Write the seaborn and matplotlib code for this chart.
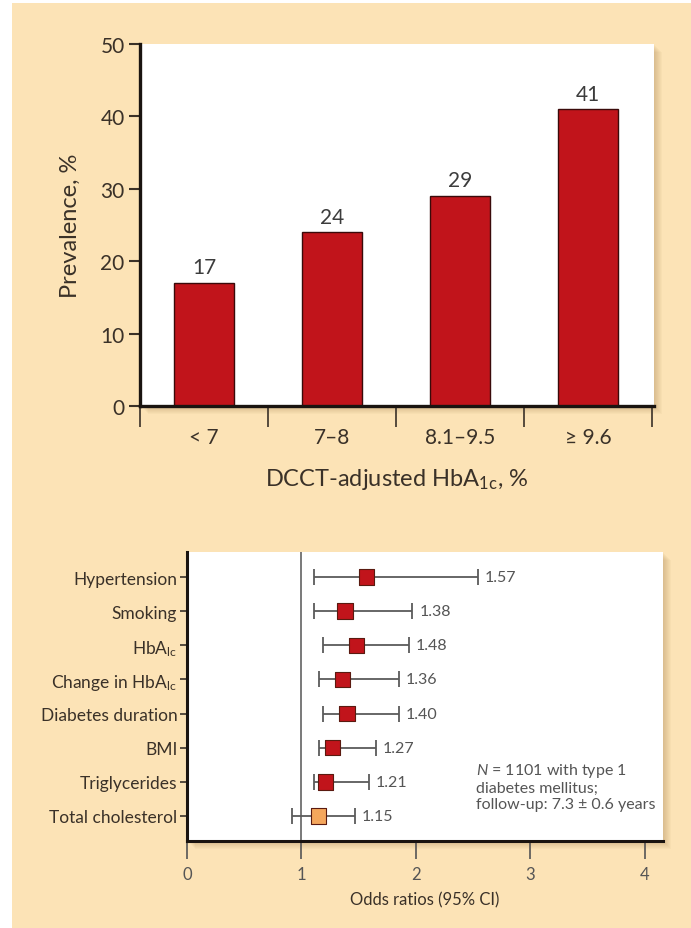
import numpy as np
import pandas as pd
import seaborn as sns
import matplotlib
matplotlib.use('Agg')
import matplotlib.pyplot as plt
from matplotlib.patches import Rectangle

# ---- data ----
hba1c_groups = ["< 7", "7\u20138", "8.1\u20139.5", "\u2265 9.6"]
prevalence = [17, 24, 29, 41]

factors = ["Hypertension", "Smoking", r"HbA$_{\mathregular{lc}}$",
           r"Change in HbA$_{\mathregular{lc}}$", "Diabetes duration",
           "BMI", "Triglycerides", "Total cholesterol"]
odds_ratio = [1.57, 1.38, 1.48, 1.36, 1.40, 1.27, 1.21, 1.15]
ci_low = [1.11, 1.11, 1.19, 1.15, 1.19, 1.15, 1.11, 0.92]
ci_high = [2.54, 1.97, 1.94, 1.85, 1.85, 1.65, 1.59, 1.47]
significant = [True, True, True, True, True, True, True, False]

# ---- style ----
PEACH = '#fce3b6'
RED = '#c1141b'
ORANGE = '#f4a65c'
INK = '#3a3128'

sns.set_theme(style='white')
plt.rcParams['font.family'] = ['Lato', 'DejaVu Sans']
plt.rcParams['mathtext.fontset'] = 'custom'
plt.rcParams['mathtext.rm'] = 'Lato'
plt.rcParams['mathtext.it'] = 'Lato:italic'
plt.rcParams['text.color'] = INK
plt.rcParams['axes.labelcolor'] = INK
plt.rcParams['xtick.color'] = INK
plt.rcParams['ytick.color'] = INK

W, H = 691, 929
fig = plt.figure(figsize=(W / 100, H / 100), dpi=100)
fig.patch.set_facecolor('white')
fig.patches.append(Rectangle((12 / W, 0), 1, 1 - 4 / H, transform=fig.transFigure,
                             facecolor=PEACH, edgecolor='none', zorder=-3))


def px_axes(x0, y0, x1, y1):
    return fig.add_axes([x0 / W, 1 - y1 / H, (x1 - x0) / W, (y1 - y0) / H])


def shadow(x0, y0, x1, y1):
    # soft drop shadow to the right/below of a white panel
    for i in range(1, 9):
        fig.patches.append(Rectangle(((x0 + i) / W, 1 - (y1 + i) / H), (x1 - x0) / W, (y1 - y0) / H,
                                     transform=fig.transFigure, facecolor='#9a7040',
                                     edgecolor='none', alpha=0.045, zorder=-2))


# ---- top: prevalence bars ----
shadow(140, 45, 654, 407)
ax1 = px_axes(140, 45, 654, 407)
ax1.set_facecolor('white')
sns.barplot(x=hba1c_groups, y=prevalence, color=RED, saturation=1, width=0.47,
            edgecolor='#3a0a0a', linewidth=1, ax=ax1)
ax1.bar_label(ax1.containers[0], labels=[str(v) for v in prevalence], padding=4,
              fontsize=15, color='#3c3c3c')
ax1.set_xlim(-0.5, 3.515)
ax1.set_ylim(0, 50)
ax1.set_yticks(range(0, 51, 10))
ax1.tick_params(axis='y', which='major', direction='out', length=8, width=1.5,
                labelsize=15, pad=3, left=True)
ax1.set_xticks(np.arange(-0.5, 4, 1))
ax1.set_xticklabels([])
ax1.set_xticks(range(len(hba1c_groups)), minor=True)
ax1.set_xticklabels(hba1c_groups, minor=True)
ax1.tick_params(axis='x', which='major', direction='out', length=15, width=1.2, bottom=True)
ax1.tick_params(axis='x', which='minor', length=0, labelsize=15, pad=15)
for s in ['top', 'right']:
    ax1.spines[s].set_visible(False)
for s in ['left', 'bottom']:
    ax1.spines[s].set_linewidth(2.4)
    ax1.spines[s].set_color('#1a1410')
ax1.set_ylabel("Prevalence, %", fontsize=17, labelpad=14)
ax1.set_xlabel(r"DCCT-adjusted HbA$_{\mathregular{1c}}$, %", fontsize=17, labelpad=14)

# ---- bottom: odds ratios ----
df = pd.DataFrame({'factor': factors, 'or': odds_ratio, 'lo': ci_low, 'hi': ci_high,
                   'sig': significant})
shadow(187, 553, 663, 842)
ax2 = px_axes(187, 553, 663, 842)
ax2.set_facecolor('white')
ax2.axvline(1, color='#555555', lw=1.1, zorder=1)
ypos = np.arange(len(df))
ax2.errorbar(df['or'], ypos, xerr=[df['or'] - df['lo'], df['hi'] - df['or']], fmt='none',
             ecolor='#5a5a5a', elinewidth=1.3, capsize=5.5, capthick=1.3, zorder=2)
sns.scatterplot(data=df, x='or', y='factor', hue='sig',
                palette={True: RED, False: ORANGE}, marker='s', s=125,
                edgecolor='#5a1a10', linewidth=0.8, legend=False, zorder=3, ax=ax2)
for i, r in df.iterrows():
    ax2.annotate(f"{r['or']:.2f}", (r['hi'], i), xytext=(5, 0), textcoords='offset points',
                 va='center', ha='left', fontsize=11.5, color='#555555')
ax2.text(2.53, 6.12, "$N$ = 1101 with type 1\ndiabetes mellitus;\nfollow-up: 7.3 \u00b1 0.6 years",
         fontsize=11.5, color='#555555', va='center', ha='left', linespacing=1.15)
ax2.set_xlim(0, 4.16)
ax2.set_ylim(len(df) - 1 + 0.735, -0.735)
ax2.set_xticks(range(0, 5))
ax2.tick_params(axis='x', direction='out', length=13, width=1.2, labelsize=12, pad=5,
                bottom=True, colors='#555555')
ax2.tick_params(axis='y', direction='out', length=5, width=1.2, labelsize=12.5, pad=2,
                left=True)
for s in ['top', 'right']:
    ax2.spines[s].set_visible(False)
for s in ['left', 'bottom']:
    ax2.spines[s].set_linewidth(2.2)
    ax2.spines[s].set_color('#1a1410')
ax2.set_ylabel('')
ax2.set_xlabel("Odds ratios (95% CI)", fontsize=12, labelpad=7)

fig.savefig('out.png', dpi=100)
